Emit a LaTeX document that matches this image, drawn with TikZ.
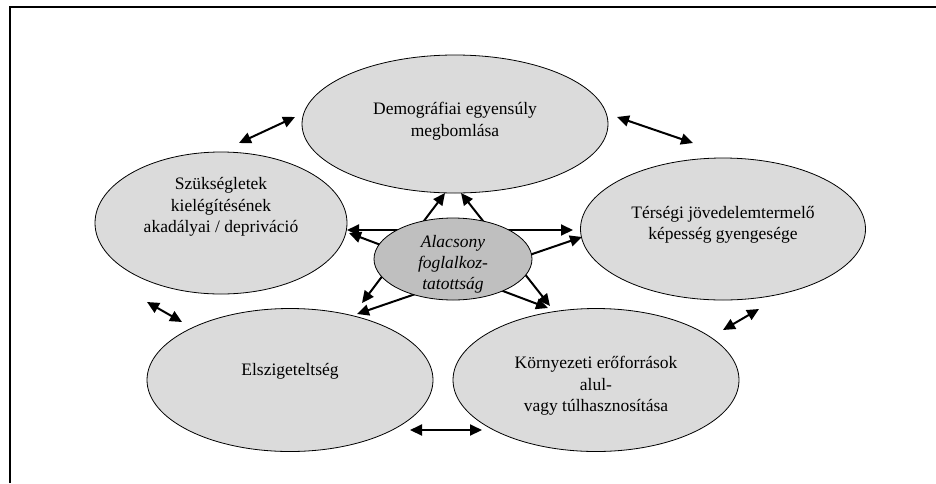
\documentclass[tikz,border=0pt]{standalone}
\usepackage{fontspec}
\setmainfont{Liberation Serif}
\usetikzlibrary{arrows.meta, shapes.geometric}

\tikzset{
  bubble/.style={ellipse, draw, line width=0.8pt, fill=black!14, inner sep=0pt},
  core/.style={bubble, fill=black!25},
  txt/.style={align=center, inner sep=0pt, font=\fontsize{17.5}{21.5}\selectfont},
  link/.style={line width=2pt, {Triangle[length=12pt,width=11pt]}-{Triangle[length=12pt,width=11pt]}},
}

\begin{document}
\begin{tikzpicture}[x=1pt, y=-1pt]
        \useasboundingbox (0,0) rectangle (936,483);

        % Frame:
        \draw [line width=2pt] (10,483) -- (10,7) -- (936,7);

        % Outer ellipses:
        \node [bubble, minimum width=306pt, minimum height=138pt] (demo) at (455,124) {};
        \node [txt] (demo-text) at ([yshift=3pt]demo.center) {Demográfiai egyensúly\\megbomlása};

        \node [bubble, minimum width=252pt, minimum height=142pt] (szuk) at (221,223) {};
        \node [txt] (szuk-text) at ([yshift=16pt]szuk.center) {Szükségletek\\kielégítésének\\akadályai / depriváció};

        \node [bubble, minimum width=285pt, minimum height=142pt] (ters) at (723,229) {};
        \node [txt] (ters-text) at ([yshift=4pt]ters.center) {Térségi jövedelemtermelő\\képesség gyengesége};

        \node [bubble, minimum width=286pt, minimum height=143pt] (elsz) at (290,380) {};
        \node [txt] (elsz-text) at ([yshift=9pt]elsz.center) {Elszigeteltség};

        \node [bubble, minimum width=286pt, minimum height=143pt] (korny) at (596,380) {};
        \node [txt] (korny-text) at ([yshift=-6pt]korny.center) {Környezeti erőforrások\\alul-\\vagy túlhasznosítása};

        % Arrow ends:
        \coordinate (szuk-ne) at (239,143);  \coordinate (demo-w) at (295,117);
        \coordinate (demo-e) at (617,117);   \coordinate (ters-nw) at (693,143);
        \coordinate (szuk-s) at (147,302);   \coordinate (elsz-nw) at (182,322);
        \coordinate (ters-s) at (759,309);   \coordinate (korny-ne) at (723,330);
        \coordinate (elsz-e) at (410,430);   \coordinate (korny-w) at (482,430);

        \coordinate (demo-s1) at (445,193);  \coordinate (elsz-n1) at (362,303);
        \coordinate (demo-s2) at (461,193);  \coordinate (korny-n1) at (550,306);
        \coordinate (szuk-e1) at (347,230);  \coordinate (ters-w1) at (573,230);
        \coordinate (szuk-e2) at (349,233);  \coordinate (korny-n2) at (548,308);
        \coordinate (ters-w2) at (582,237);  \coordinate (elsz-n2) at (357,314);

        % Arrows between the outer ellipses:
        \foreach \a/\b in {szuk-ne/demo-w, demo-e/ters-nw, szuk-s/elsz-nw, ters-s/korny-ne, elsz-e/korny-w}{%
        \draw [link] (\a) -- (\b);
        }

        % Star behind the centre:
        \foreach \a/\b in {demo-s1/elsz-n1, demo-s2/korny-n1, szuk-e1/ters-w1, szuk-e2/korny-n2, ters-w2/elsz-n2}{%
        \draw [link] (\a) -- (\b);
        }

        % Centre ellipse:
        \node [core, minimum width=158pt, minimum height=82pt] (alac) at (453,259) {};
        \node [txt, font=\fontsize{17.5}{21}\selectfont\itshape] (alac-text) at ([yshift=-5pt]alac.center) {Alacsony\\foglalkoz-\\tatottság};

    \end{tikzpicture}
\end{document}
